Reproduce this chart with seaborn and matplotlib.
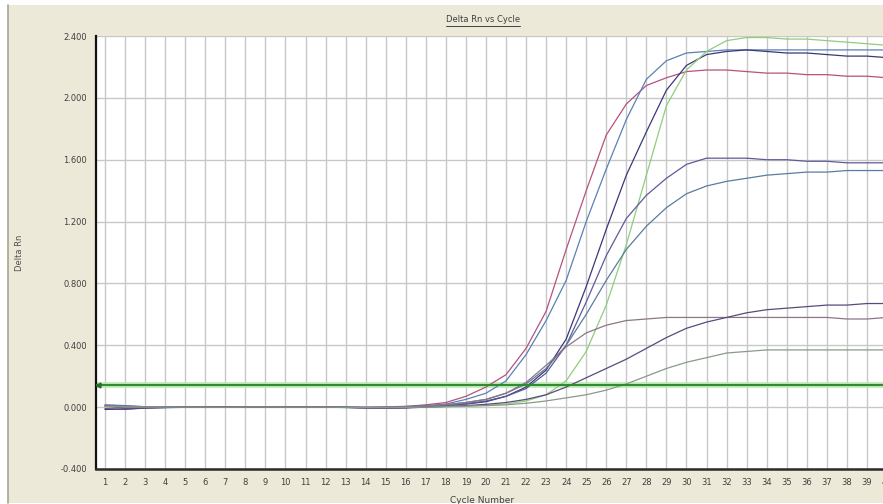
import numpy as np
import pandas as pd
import matplotlib
matplotlib.use('Agg')
import matplotlib.pyplot as plt
from matplotlib.patches import Rectangle
from matplotlib.lines import Line2D
from matplotlib.ticker import FormatStrFormatter
import seaborn as sns

# amplification curves (Delta Rn per cycle)
cycles = list(range(1, 41))

red = [0.004, -0.002, 0.000, 0.000, 0.000, 0.001, 0.002, 0.002, 0.001, 0.002,
       0.003, 0.002, 0.001, 0.000, 0.002, 0.005, 0.015, 0.03, 0.07, 0.13,
       0.21, 0.38, 0.62, 1.02, 1.40, 1.76, 1.96, 2.08, 2.13, 2.17,
       2.18, 2.18, 2.17, 2.16, 2.16, 2.15, 2.15, 2.14, 2.14, 2.13]
blue = [0.012, 0.008, 0.002, 0.000, -0.001, 0.000, 0.001, 0.002, 0.001, 0.002,
        0.002, 0.001, 0.000, -0.002, 0.000, 0.004, 0.01, 0.02, 0.05, 0.09,
        0.17, 0.34, 0.56, 0.82, 1.20, 1.54, 1.86, 2.12, 2.24, 2.29,
        2.30, 2.31, 2.31, 2.31, 2.31, 2.31, 2.31, 2.31, 2.31, 2.31]
navy = [-0.015, -0.012, -0.005, -0.003, -0.001, 0.000, 0.002, 0.003, 0.002, 0.001,
        0.001, 0.000, -0.002, -0.005, -0.006, -0.004, 0.004, 0.012, 0.02, 0.035,
        0.07, 0.13, 0.24, 0.44, 0.78, 1.15, 1.50, 1.78, 2.05, 2.21,
        2.28, 2.30, 2.31, 2.30, 2.29, 2.29, 2.28, 2.27, 2.27, 2.26]
green = [0.005, 0.003, 0.001, 0.000, 0.000, 0.001, 0.001, 0.000, 0.000, 0.001,
         0.001, 0.000, -0.001, -0.003, -0.004, -0.003, 0.000, 0.004, 0.008, 0.012,
         0.02, 0.04, 0.08, 0.17, 0.36, 0.66, 1.05, 1.50, 1.95, 2.18,
         2.30, 2.37, 2.39, 2.39, 2.38, 2.38, 2.37, 2.36, 2.35, 2.34]
purple = [0.010, -0.008, -0.004, -0.002, 0.000, 0.001, 0.002, 0.002, 0.001, 0.000,
          0.001, 0.000, -0.001, -0.004, -0.005, -0.002, 0.005, 0.012, 0.022, 0.04,
          0.07, 0.12, 0.22, 0.40, 0.68, 0.98, 1.22, 1.37, 1.48, 1.57,
          1.61, 1.61, 1.61, 1.60, 1.60, 1.59, 1.59, 1.58, 1.58, 1.58]
bluegray = [0.015, 0.010, 0.003, 0.001, 0.000, 0.000, 0.001, 0.002, 0.002, 0.001,
            0.000, 0.000, -0.001, -0.003, -0.004, -0.001, 0.006, 0.015, 0.03, 0.05,
            0.09, 0.15, 0.25, 0.40, 0.60, 0.82, 1.02, 1.17, 1.29, 1.38,
            1.43, 1.46, 1.48, 1.50, 1.51, 1.52, 1.52, 1.53, 1.53, 1.53]
mauve = [0.008, 0.004, 0.001, 0.000, 0.000, 0.000, 0.001, 0.001, 0.000, 0.000,
         0.001, 0.000, -0.001, -0.002, -0.002, 0.002, 0.008, 0.016, 0.03, 0.05,
         0.09, 0.16, 0.27, 0.39, 0.48, 0.53, 0.56, 0.57, 0.58, 0.58,
         0.58, 0.58, 0.58, 0.58, 0.58, 0.58, 0.58, 0.57, 0.57, 0.58]
darkpurple = [-0.010, -0.014, -0.006, -0.002, 0.000, 0.000, 0.002, 0.002, 0.001, 0.000,
              0.000, -0.001, -0.002, -0.004, -0.006, -0.005, 0.000, 0.005, 0.01, 0.018,
              0.03, 0.05, 0.08, 0.13, 0.19, 0.25, 0.31, 0.38, 0.45, 0.51,
              0.55, 0.58, 0.61, 0.63, 0.64, 0.65, 0.66, 0.66, 0.67, 0.67]
graygreen = [0.004, 0.002, 0.000, 0.000, 0.000, 0.000, 0.000, 0.001, 0.001, 0.000,
             0.000, 0.000, -0.001, -0.002, -0.003, -0.002, 0.000, 0.003, 0.006, 0.01,
             0.015, 0.025, 0.04, 0.06, 0.08, 0.11, 0.15, 0.20, 0.25, 0.29,
             0.32, 0.35, 0.36, 0.37, 0.37, 0.37, 0.37, 0.37, 0.37, 0.37]

wells = ['A1', 'A2', 'A3', 'A4', 'A5', 'A6', 'A7', 'A8', 'A9']
series = [red, blue, navy, green, purple, bluegray, mauve, darkpurple, graygreen]
well_colors = ['#b4527e', '#5a80b8', '#3a3878', '#8cce7c', '#5e5a98',
               '#5a7c9e', '#8c7686', '#5a4a7c', '#8a9a88']

threshold = 0.145
y_ticks = [-0.4, 0.0, 0.4, 0.8, 1.2, 1.6, 2.0, 2.4]

df = pd.concat([pd.DataFrame({'Cycle': cycles, 'Delta Rn': s, 'Well': w})
                for w, s in zip(wells, series)], ignore_index=True)

sns.set_theme(style='white')
plt.rcParams['font.family'] = ['DejaVu Sans']

W, H = 883, 504
fig = plt.figure(figsize=(W / 100, H / 100), dpi=100, facecolor='white')

# beige window panel
fig.add_artist(Rectangle((8 / W, 1 / H), 1, (H - 6) / H, transform=fig.transFigure,
                         facecolor='#ece9d8', edgecolor='none', zorder=0))
fig.add_artist(Line2D([8 / W, 8 / W], [1 / H, (H - 5) / H], transform=fig.transFigure,
                      color='#a8a493', lw=1.2, zorder=1))

xlo, xhi = 0.55, 40.5
ax_left = 96 / W
ax_w = (xhi - xlo) * 20.05 / W
ax = fig.add_axes([ax_left, 35 / H, ax_w, 433 / H])
ax.set_facecolor('white')

sns.lineplot(data=df, x='Cycle', y='Delta Rn', hue='Well', palette=well_colors,
             linewidth=0.9, legend=False, ax=ax, zorder=3)

# threshold line
ax.axhline(threshold, color='#b8e8b0', lw=4, zorder=2)
ax.axhline(threshold, color='#2e8a2e', lw=1.4, zorder=4)
ax.plot([0.63], [threshold], marker='<', color='#2e6a2e', markersize=3.5, zorder=5)

ax.set_xlim(xlo, xhi)
ax.set_ylim(-0.4, 2.4)
ax.set_xticks(cycles)
ax.set_yticks(y_ticks)
ax.yaxis.set_major_formatter(FormatStrFormatter('%.3f'))
ax.grid(True, color='#c8c8c8', lw=1.0)
ax.set_axisbelow(True)
ax.tick_params(length=0, labelsize=6, colors='#404040', pad=6.5)
ax.set_xlabel('')
ax.set_ylabel('')

for side in ['top', 'right']:
    ax.spines[side].set_visible(False)
ax.spines['left'].set_color('#111111')
ax.spines['left'].set_linewidth(1.6)
ax.spines['bottom'].set_color('#2a2a2a')
ax.spines['bottom'].set_linewidth(1.8)

title = fig.text(483 / W, (H - 20) / H, 'Delta Rn vs Cycle', ha='center', va='center',
                 fontsize=6, color='#404040')
fig.text(20 / W, (H - 253) / H, 'Delta Rn', rotation=90, ha='center', va='center',
         fontsize=6, color='#505050')
fig.text(482 / W, 8 / H, 'Cycle Number', ha='center', va='top',
         fontsize=6.5, color='#404040')

# underline the title
fig.canvas.draw()
bb = title.get_window_extent()
fig.add_artist(Line2D([bb.x0 / W, bb.x1 / W], [(bb.y0 - 1) / H, (bb.y0 - 1) / H],
                      transform=fig.transFigure, color='#404040', lw=0.7))

fig.savefig('out.png', dpi=100, facecolor=fig.get_facecolor())
